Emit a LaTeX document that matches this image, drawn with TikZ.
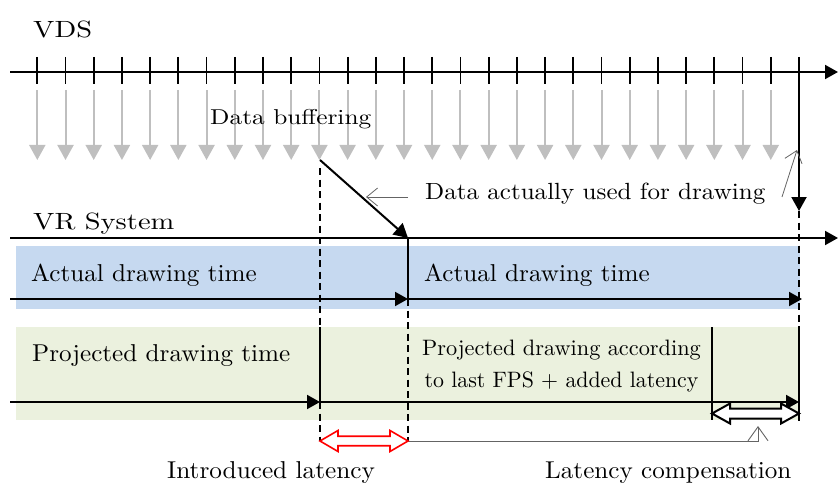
\documentclass[tikz,border=0pt]{standalone}
\usepackage{fontspec}
\setmainfont{lmroman10-regular.otf}
\usetikzlibrary{arrows.meta}
\definecolor{bandblue}{RGB}{198,217,240}
\definecolor{bandgreen}{RGB}{235,241,222}
\definecolor{bufgray}{RGB}{191,191,191}
\definecolor{notegray}{RGB}{100,100,100}
% label text: size in pt, horizontal stretch, text
\newcommand{\lbltext}[3]{{\fontsize{#1pt}{#1pt}\selectfont\scalebox{#2}[1]{#3}}}

\begin{document}
\begin{tikzpicture}[x=1pt,y=-1pt,
  axisline/.style={line width=2pt, -{Triangle[length=13pt,width=14pt]}},
  tickmark/.style={line width=1.8pt},
  bufarrow/.style={bufgray, line width=2pt, -{Triangle[length=15pt,width=16pt]}},
  useline/.style={line width=2pt, -{Triangle[length=14pt,width=15pt]}},
  guide/.style={line width=1.6pt, dash pattern=on 7pt off 4.5pt},
  divider/.style={line width=1.6pt},
  callout/.style={notegray, line width=0.8pt, -{Straight Barb[length=11pt,width=18pt]}},
  blockarrow/.style={line width=1.6pt, fill=white, line join=miter},
  lbl/.style={inner sep=0pt, anchor=base west},
]
\useasboundingbox (0,0) rectangle (838,484);

% bands
\fill[bandblue] (16,246) rectangle (800,309);
\fill[bandgreen] (16,327) rectangle (800,420);

% key points
\coordinate (vdsL) at (10,72);   \coordinate (vdsR) at (838,72);
\coordinate (vrL) at (10,238);   \coordinate (vrR) at (838,238);
\coordinate (actL) at (10,299);  \coordinate (prjL) at (10,402);
\coordinate (bufA) at (320,160); \coordinate (drawA) at (408,238);
\coordinate (drawEnd) at (408,299); \coordinate (actEnd) at (802,299);
\coordinate (prjA) at (320,402); \coordinate (prjEnd) at (799,402);
\coordinate (useTop) at (799,72); \coordinate (useEnd) at (799,211);
\coordinate (latL) at (320,441); \coordinate (latR) at (408,441);
\coordinate (compL) at (712,413.5); \coordinate (compR) at (799,413.5);
\coordinate (compMid) at (758,426);

% VDS time axis with sample ticks and buffered data
\draw[axisline] (vdsL) -- (vdsR);
\foreach \i in {0,...,27}{
  \pgfmathsetmacro\tx{37.3+28.21*\i}
  \coordinate (t\i) at (\tx,72);
  \draw[tickmark] (t\i) ++(0,-15) -- ++(0,27);
}
\foreach \i in {0,...,26}{
  \draw[bufarrow] (t\i) ++(0,18) -- ++(0,70);
}

% VR system axis
\draw[axisline] (vrL) -- (vrR);

% guide lines
\draw[guide] (320,168) -- (320,327);
\draw[divider] (320,327) -- (prjA);
\draw[guide] (prjA) -- (latL);
\draw[divider] (drawA) -- (drawEnd);
\draw[guide] (drawEnd) -- (latR);
\draw[divider] (712,327) -- (712,420);
\draw[guide] (useEnd) -- (799,327);
\draw[divider] (799,327) -- (799,421);

% data actually used
\draw[useline] (bufA) -- (drawA);
\draw[useline] (useTop) -- (useEnd);

% drawing time axes
\draw[axisline] (actL) -- (drawEnd);
\draw[axisline] (drawEnd) -- (actEnd);
\draw[axisline] (prjL) -- (prjA);
\draw[axisline] (prjA) -- (prjEnd);

% callouts
\coordinate (noteA) at (408,197); \coordinate (noteAtip) at (366,197);
\coordinate (noteB) at (782,197); \coordinate (noteBtip) at (797,150);
\draw[callout] (noteA) -- (noteAtip);
\draw[callout] (noteB) -- (noteBtip);
\draw[notegray, line width=0.9pt, -{Straight Barb[length=14pt,width=20pt]}] (latR) -| (compMid);

% latency double arrows
\draw[blockarrow, draw=red] (latL) -- ++(18,-10.5) -- ++(0,5.75) -- ++(52,0) -- ++(0,-5.75)
  -- (latR) -- ++(-18,10.5) -- ++(0,-5.75) -- ++(-52,0) -- ++(0,5.75) -- cycle;
\draw[blockarrow, draw=black, line width=2pt] (compL) -- ++(18,-10) -- ++(0,5) -- ++(51,0) -- ++(0,-5)
  -- (compR) -- ++(-18,10) -- ++(0,-5) -- ++(-51,0) -- ++(0,5) -- cycle;

% labels
\node[lbl] (vds) at (33,37.3) {\lbltext{23.5}{1.21}{VDS}};
\node[lbl] (vr) at (33,229.3) {\lbltext{23.5}{1.21}{VR System}};
\node[lbl] (buf) at (210,124.5) {\lbltext{21.5}{1.18}{Data buffering}};
\node[lbl] (used) at (425,199.3) {\lbltext{23.4}{1.07}{Data actually used for drawing}};
\node[lbl] (act1) at (31,281.7) {\lbltext{24.4}{1.03}{Actual drawing time}};
\node[lbl] (act2) at (424,281.7) {\lbltext{24.4}{1.03}{Actual drawing time}};
\node[lbl] (prj1) at (32,361.7) {\lbltext{24.4}{1.03}{Projected drawing time}};
\node[inner sep=0pt, anchor=base] (prj2a) at (561.5,355.4) {\lbltext{22.3}{1.0}{Projected drawing according}};
\node[inner sep=0pt, anchor=base] (prj2b) at (561.5,387.3) {\lbltext{22.3}{0.98}{to last FPS + added latency}};
\node[lbl] (intro) at (167,478.5) {\lbltext{24.4}{1.035}{Introduced latency}};
\node[lbl] (comp) at (545,478) {\lbltext{24.4}{1.03}{Latency compensation}};
\end{tikzpicture}
\end{document}
